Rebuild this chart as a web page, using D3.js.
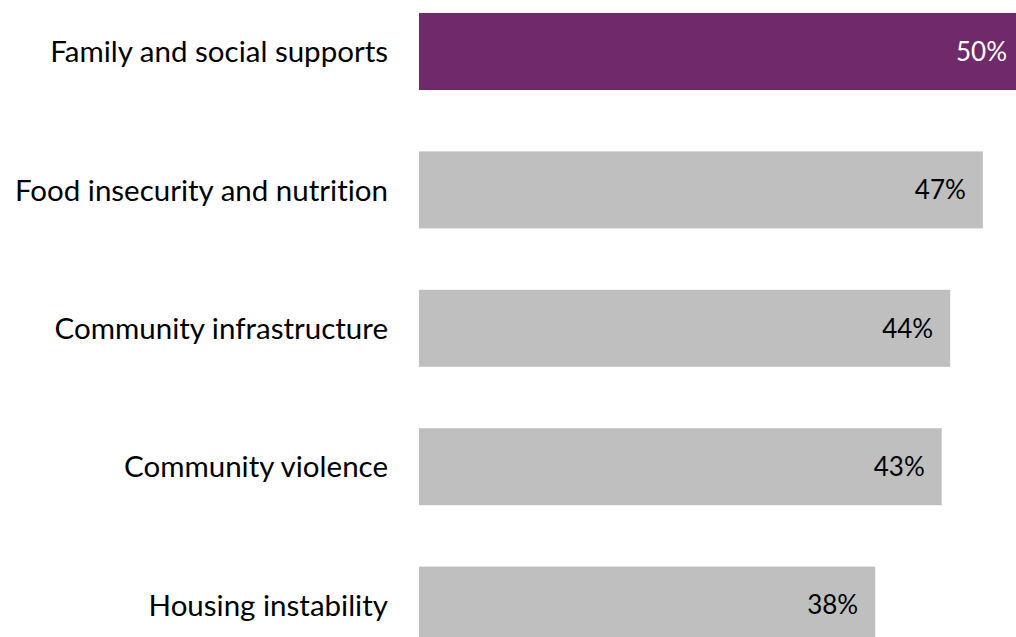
<!DOCTYPE html>
<html>
<head>
<meta charset="utf-8">
<script src="https://cdn.jsdelivr.net/npm/d3@7"></script>
<style>
  html, body { margin: 0; padding: 0; background: #ffffff; }
  svg { display: block; }
  text { font-variant-ligatures: none; font-feature-settings: "liga" 0; }
</style>
</head>
<body>
<svg id="chart" width="1016" height="637"></svg>
<script>
const categories = [
  "Family and social supports",
  "Food insecurity and nutrition",
  "Community infrastructure",
  "Community violence",
  "Housing instability"
];
const values = [50.0, 46.6, 43.9, 43.2, 37.7];
const highlight = [true, false, false, false, false];

const svg = d3.select("#chart");
const fontFamily = "Lato, 'Open Sans', sans-serif";

const x = d3.scaleLinear().domain([0, 50]).range([419, 1024]);
const y = d3.scaleBand().domain(categories).range([-48.4, 705]).paddingInner(0.4436).paddingOuter(0.4436);

const data = categories.map((c, i) => ({ c, v: values[i], h: highlight[i] }));

const g = svg.append("g");

g.selectAll("rect.bar")
  .data(data)
  .join("rect")
  .attr("class", "bar")
  .attr("x", x(0))
  .attr("y", d => y(d.c))
  .attr("width", d => x(d.v) - x(0))
  .attr("height", y.bandwidth())
  .attr("fill", d => d.h ? "#70296B" : "#BFBFBF");

g.selectAll("text.val")
  .data(data)
  .join("text")
  .attr("class", "val")
  .attr("x", d => x(d.v) - 17)
  .attr("y", d => y(d.c) + y.bandwidth() / 2)
  .attr("dy", "0.36em")
  .attr("text-anchor", "end")
  .attr("font-family", fontFamily)
  .attr("font-size", 26)
  .attr("fill", d => d.h ? "#ffffff" : "#000000")
  .text(d => Math.round(d.v) + "%");

const yAxis = d3.axisLeft(y).tickSize(0).tickPadding(0);
const ax = svg.append("g")
  .attr("transform", "translate(388,0)")
  .call(yAxis);
ax.select(".domain").remove();
ax.selectAll("text")
  .attr("font-family", fontFamily)
  .attr("font-size", 29.5)
  .attr("fill", "#000000")
  .attr("dy", "0.36em");
</script>
</body>
</html>
